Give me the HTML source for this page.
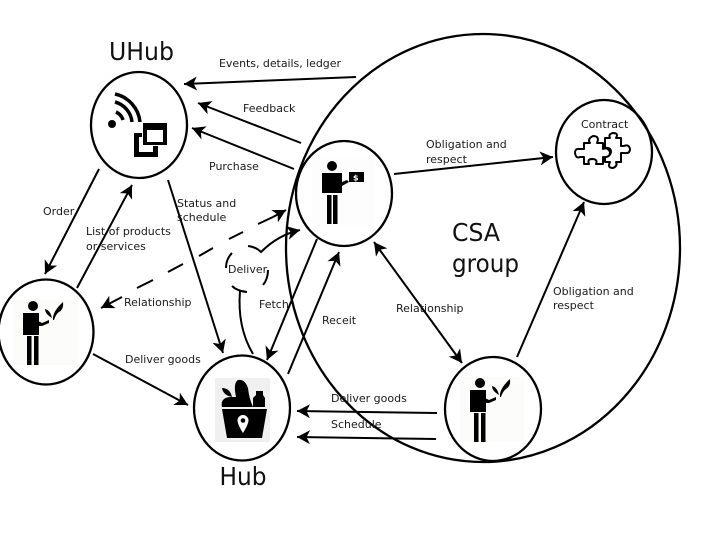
<!DOCTYPE html>
<html><head><meta charset="utf-8"><style>
html,body{margin:0;padding:0;background:#fff;width:720px;height:540px;overflow:hidden}
svg{display:block}
text{font-family:"DejaVu Sans","Liberation Sans",sans-serif;font-size:11px;fill:#1a1a1a}
.t{font-size:24.500px;fill:#111}
.l{stroke:#000;stroke-width:2;fill:none}
.c{stroke:#000;stroke-width:2.300;fill:none}
</style></head><body>
<svg width="720" height="540" viewBox="0 0 720 540" xmlns="http://www.w3.org/2000/svg">
<defs>
<marker id="a" markerUnits="userSpaceOnUse" markerWidth="16" markerHeight="15" refX="13" refY="7" orient="auto-start-reverse"><path d="M0,0 L13,7 L0,14 L3.500,7 Z" fill="#000"/></marker>
<g id="farmer">
<rect x="-9" y="-1" width="64" height="65" fill="#fcfcfa"/>
<circle cx="11" cy="5" r="5" fill="#000"/>
<path d="M1,12 H17 V34 H1 Z" fill="#000"/>
<rect x="5" y="35" width="4.500" height="29" fill="#000"/>
<rect x="12" y="35" width="4.500" height="29" fill="#000"/>
<path d="M16,20 L20,22 L27,19 L27,22 L20,25 L16,25 Z" fill="#000"/>
<path d="M31,19 Q30,11 41,1 Q42,8 37,11 Q34,13 32,19 Z" fill="#000"/>
<path d="M30,17 Q28,9 23,8 Q23,13 30,17 Z" fill="#000"/>
</g>
</defs>

<!-- large group -->
<ellipse class="c" cx="483" cy="248" rx="197" ry="214"/>

<!-- nodes -->
<ellipse class="c" cx="139" cy="125" rx="48" ry="53"/>
<ellipse class="c" cx="46" cy="332" rx="47.500" ry="52.500"/>
<ellipse class="c" cx="242" cy="408" rx="48" ry="52.500"/>
<ellipse class="c" cx="493" cy="409" rx="48" ry="52"/>
<ellipse class="c" cx="344" cy="193.500" rx="48" ry="52.500"/>
<ellipse class="c" cx="604" cy="152" rx="48" ry="52"/>

<!-- UHub icon -->
<circle cx="112" cy="124" r="4" fill="#000"/>
<g fill="none" stroke="#000" stroke-width="3.500">
<path d="M116,112 A13,13 0 0 1 123,120"/>
<path d="M115,102 A23,23 0 0 1 132,122"/>
<path d="M115,94 A32,32 0 0 1 140,122"/>
</g>
<rect x="134" y="133" width="24" height="24" fill="#000"/>
<rect x="139" y="137" width="14" height="15" fill="#fff"/>
<rect x="142" y="122" width="26" height="24" fill="#fff"/>
<rect x="143" y="123" width="24" height="22" fill="#000"/>
<rect x="147" y="130" width="16" height="12" fill="#fff"/>

<!-- Farmer icons -->
<use href="#farmer" x="22" y="301"/>
<use href="#farmer" x="469" y="378"/>

<!-- Member with bill -->
<rect x="312" y="158" width="62" height="68" fill="#fdfdfd"/>
<circle cx="332" cy="166" r="5" fill="#000"/>
<path d="M322,173 H342 V193 H322 Z" fill="#000"/>
<rect x="327" y="195" width="4.500" height="29" fill="#000"/>
<rect x="333" y="195" width="4.500" height="29" fill="#000"/>
<path d="M342,182 L347,180 L349,182 L342,186 Z" fill="#000"/>
<rect x="349" y="172" width="15" height="10" fill="#000"/>
<text x="353" y="180.500" style="font-size:8px;fill:#fff;font-weight:bold">$</text>

<!-- Hub icon -->
<rect x="215" y="378" width="55" height="64" fill="#f0f0f0"/>
<path d="M222,409 H267 L262,438 H227 Z" fill="#000"/>
<path d="M222,407 Q220,398 230,397 L236,397 Q233,383 238,380 Q245,379 248,388 Q249,398 253,407 Z" fill="#000"/>
<path d="M232,397 Q223,395 222,388 Q230,388 232,397 Z" fill="#000"/>
<path d="M253,407 V398 L256,395 V391 H263 V395 L265,398 V407 Z" fill="#000"/>
<path d="M243,415 a5.500,5.500 0 0 1 5.500,5.500 c0,4 -5.500,12.500 -5.500,12.500 c0,0 -5.500,-8.500 -5.500,-12.500 a5.500,5.500 0 0 1 5.500,-5.500 Z" fill="#fff"/>
<circle cx="243" cy="420.500" r="2.300" fill="#000"/>

<!-- Puzzle -->
<g fill="#fff" stroke="#000" stroke-width="2" stroke-linejoin="round">
<path d="M605,138 h5 q-2,-4 3,-5 q6,0 3,5 h5 v8 h3 q5,-2 6,3 q0,5 -6,4 h-3 v9 h-5 q2,4 -3,6 q-6,0 -3,-6 h-5 v-6 q5,1 6,-4 q0,-5 -6,-4 Z"/>
<path d="M584,143 h6 q-3,-4 3,-7 q7,0 4,7 h6 v6 q5,-2 7,3 q0,6 -7,5 v7 h-7 q2,-5 -4,-5 q-5,0 -3,5 h-5 v-7 h-4 q-4,2 -5,-4 q0,-5 5,-4 h4 Z"/>
</g>

<!-- Connectors -->
<line class="l" x1="356" y1="77" x2="184" y2="84" marker-end="url(#a)"/>
<line class="l" x1="301" y1="143" x2="198" y2="103" marker-end="url(#a)"/>
<line class="l" x1="294" y1="169" x2="192" y2="128" marker-end="url(#a)"/>
<line class="l" x1="99" y1="169" x2="45" y2="274" marker-end="url(#a)"/>
<line class="l" x1="77" y1="288" x2="132" y2="185" marker-end="url(#a)"/>
<line class="l" x1="168" y1="180" x2="223" y2="353" marker-end="url(#a)"/>
<line class="l" x1="93" y1="354" x2="188" y2="405" marker-end="url(#a)"/>
<line class="l" x1="317" y1="239" x2="267" y2="360" marker-end="url(#a)"/>
<line class="l" x1="288" y1="374" x2="339" y2="252" marker-end="url(#a)"/>
<line class="l" x1="374" y1="242" x2="462" y2="363" marker-start="url(#a)" marker-end="url(#a)"/>
<line class="l" x1="517" y1="357" x2="584" y2="202" marker-end="url(#a)"/>
<line class="l" x1="394" y1="174" x2="553" y2="157" marker-end="url(#a)"/>
<line class="l" x1="437" y1="413" x2="297" y2="411" marker-end="url(#a)"/>
<line class="l" x1="436" y1="439" x2="297" y2="437" marker-end="url(#a)"/>

<!-- dashed relationship -->
<line class="l" x1="122" y1="297" x2="101" y2="308" marker-end="url(#a)"/>
<line class="l" x1="137" y1="288" x2="153" y2="280"/>
<line class="l" x1="168" y1="272" x2="183" y2="264"/>
<line class="l" x1="199" y1="256" x2="213" y2="248"/>
<line class="l" x1="229" y1="239" x2="243" y2="232"/>
<line class="l" x1="258" y1="224" x2="273" y2="217"/>
<line class="l" x1="273" y1="217" x2="286" y2="210" marker-end="url(#a)"/>

<!-- Deliver broken curve -->
<path class="l" d="M253,354 Q237,327 240,291"/>
<path class="l" d="M232,286 Q237,291 247,292"/>
<path class="l" d="M263,285 Q268,279 268,270"/>
<path class="l" d="M226,268 Q226,259 232,253"/>
<path class="l" d="M248,246 Q256,247 261,252 Q278,235 300,230" marker-end="url(#a)"/>

<!-- Labels -->
<text class="t" x="109" y="60" textLength="65" lengthAdjust="spacingAndGlyphs">UHub</text>
<text class="t" x="219.500" y="485" textLength="47" lengthAdjust="spacingAndGlyphs">Hub</text>
<text class="t" x="452" y="241" textLength="48" lengthAdjust="spacingAndGlyphs">CSA</text>
<text class="t" x="452" y="272" textLength="67" lengthAdjust="spacingAndGlyphs">group</text>
<text x="219" y="67" textLength="122">Events, details, ledger</text>
<text x="243" y="112">Feedback</text>
<text x="209" y="170">Purchase</text>
<text x="177" y="207">Status and</text>
<text x="177" y="221">schedule</text>
<text x="43" y="215">Order</text>
<text x="86" y="235">List of products</text>
<text x="86" y="250">or services</text>
<text x="124" y="306">Relationship</text>
<text x="125" y="363">Deliver goods</text>
<text x="228" y="273">Deliver</text>
<text x="259" y="308">Fetch</text>
<text x="322" y="324">Receit</text>
<text x="396" y="312">Relationship</text>
<text x="331" y="402">Deliver goods</text>
<text x="331" y="428">Schedule</text>
<text x="426" y="148">Obligation and</text>
<text x="426" y="163">respect</text>
<text x="581" y="128">Contract</text>
<text x="553" y="295">Obligation and</text>
<text x="553" y="309">respect</text>
</svg>
</body></html>
